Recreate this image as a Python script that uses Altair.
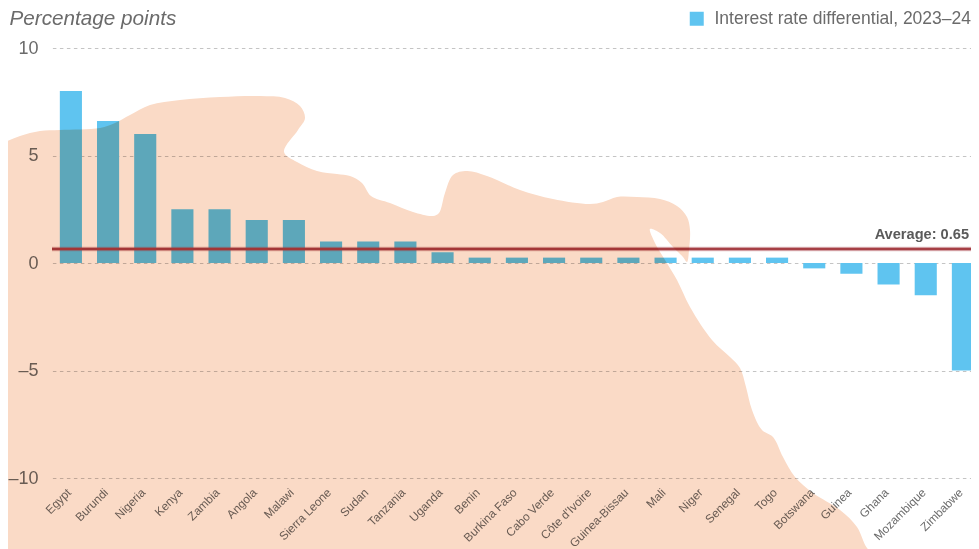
import altair as alt
import pandas as pd

countries = ["Egypt","Burundi","Nigeria","Kenya","Zambia","Angola","Malawi","Sierra Leone","Sudan","Tanzania","Uganda","Benin","Burkina Faso","Cabo Verde","Côte d'Ivoire","Guinea-Bissau","Mali","Niger","Senegal","Togo","Botswana","Guinea","Ghana","Mozambique","Zimbabwe"]
values = [8,6.6,6,2.5,2.5,2,2,1,1,1,0.5,0.25,0.25,0.25,0.25,0.25,0.25,0.25,0.25,0.25,-0.25,-0.5,-1,-1.5,-5]
series_name = "Interest rate differential, 2023–24"
average = 0.65

# Outline of the decorative background map (image px)
blob_x = [-30,-10,0,20,40,60,100,115,130,150,180,220,260,285,300,305,298,284,297,317,337,350,362,371,390,413,433,439,445,453,467,487,520,553,590,603,617,637,660,677,687,690,689,687,683,673,660,650,655,665,677,690,712,730,740,746,752,762,773,783,795,813,840,857,867,880,880]
blob_y = [560,155,145,136,131,130,128,123,115,105,100,97,96,98,106,118,130,152,162,171,174,176,183,196,203,212,216,213,193,175,171,176,190,199,204,202,197,197,199,206,217,230,250,262,257,247,233,229,243,260,280,307,340,357,368,387,410,430,437,457,477,493,510,527,548,560,570]

df = pd.DataFrame({"country": countries, "value": values, "series": series_name})
avg = pd.DataFrame({"y": [average], "label": [f"Average: {average}"]})
blob = pd.DataFrame({"x": blob_x, "y": blob_y, "i": range(len(blob_x))})

FONT = "Liberation Sans"
ydom = alt.Scale(domain=[-10, 10], nice=False)

bars = alt.Chart(df).mark_bar(clip=False).encode(
    x=alt.X("country:N", sort=countries,
            scale=alt.Scale(paddingInner=0.405, paddingOuter=0.2, range=[0.4, 929.4]),
            axis=alt.Axis(title=None, labelAngle=-45, labelAlign="right", labelBaseline="middle",
                          labelFontSize=11.8, labelColor="#6b6b6b", labelFont=FONT, ticks=False,
                          domain=False, labelPadding=12, labelOffset=-2, labelOverlap=False, labelLimit=200, grid=False)),
    y=alt.Y("value:Q", scale=ydom,
            axis=alt.Axis(values=[-10,-5,0,5,10], title="Percentage points", titleAngle=0, titleAlign="left",
                          titleBaseline="alphabetic", titleX=-43, titleY=-23.5, titleFont=FONT, titleFontSize=20.7,
                          titleFontStyle="italic", titleFontWeight="normal", titleColor="#6b6b6b",
                          labelFont=FONT, labelFontSize=18, labelColor="#6b6b6b", ticks=False, domain=False,
                          labelPadding=14, grid=True, gridColor="#c4c4c4", gridDash=[3.5, 3.5], gridWidth=1,
                          labelExpr="replace(datum.label, /[-−]/, '–')")),
    color=alt.Color("series:N", scale=alt.Scale(domain=[series_name], range=["#5fc4f0"]),
                    legend=alt.Legend(title=None, orient="none", legendX=636, legendY=-38, padding=0,
                                      symbolType="square", symbolSize=196, symbolStrokeWidth=0, labelFont=FONT,
                                      labelFontSize=17.5, labelColor="#6b6b6b", labelLimit=400, labelOffset=9)),
)

halo = alt.Chart(avg).mark_rule(color="#a9444a", strokeWidth=4.5, opacity=0.35).encode(y=alt.Y("y:Q", scale=ydom))
rule = alt.Chart(avg).mark_rule(color="#a63f45", strokeWidth=2.5).encode(y=alt.Y("y:Q", scale=ydom))
text = alt.Chart(avg).mark_text(align="right", baseline="alphabetic", font=FONT, fontSize=14.6, fontWeight="bold",
                                color="#5a5a5a", dy=-10).encode(
    y=alt.Y("y:Q", scale=ydom), x=alt.value(917), text="label:N")

main = alt.layer(bars, halo, rule, text)

shape = alt.Chart(blob).mark_line(fill="#fadac6", stroke="#fadac6", strokeWidth=0, interpolate="catmull-rom",
                                  blend="multiply", clip=False).encode(
    x=alt.X("x:Q", scale=alt.Scale(domain=[0, 979], range=[-52, 927], nice=False, zero=False), axis=None),
    y=alt.Y("y:Q", scale=alt.Scale(domain=[0, 549], range=[-48, 501], nice=False, zero=False), axis=None),
    order="i:Q",
)

chart = alt.layer(main, shape).resolve_scale(x="independent", y="independent").properties(
    width=919, height=430,
    padding={"left": 44, "top": 40, "right": 0, "bottom": 71},
    autosize=alt.AutoSizeParams(type="none"),
    background="white",
).configure_view(stroke=None)

chart.save("out.html", embed_options={"renderer": "svg", "actions": False})
